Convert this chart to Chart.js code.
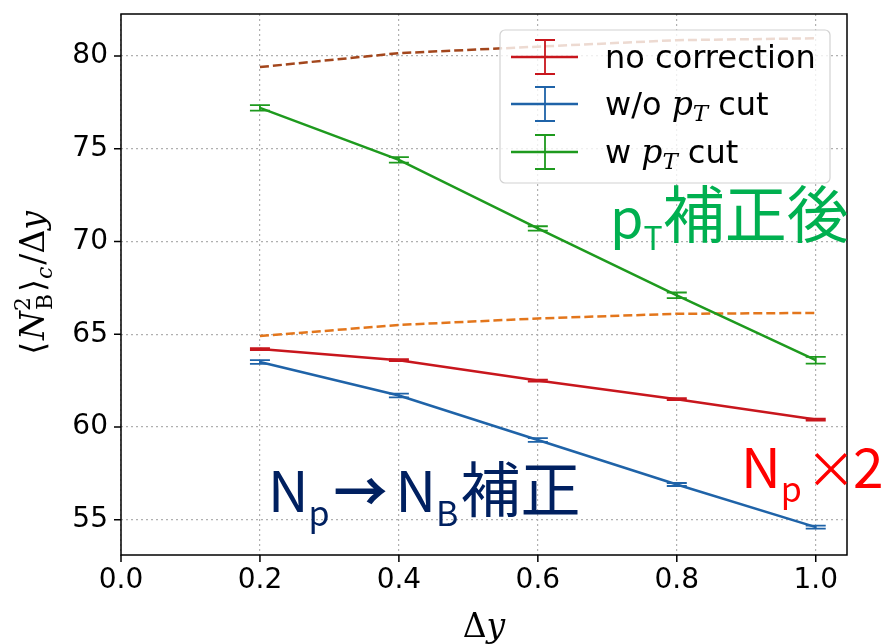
<!DOCTYPE html>
<html>
<head>
<meta charset="utf-8">
<script src="https://cdn.jsdelivr.net/npm/chart.js"></script>
<style>
  body { margin: 0; background: #fff; }
  canvas { display: block; }
</style>
</head>
<body>
<canvas id="myChart" width="886" height="644"></canvas>
<script>
// Δy values
const dy = [0.2, 0.4, 0.6, 0.8, 1.0];

// measured series with error bars
const noCorr = [64.2, 63.6, 62.5, 61.5, 60.4];
const noCorrErr = [0.05, 0.05, 0.05, 0.05, 0.05];
const woCut = [63.5, 61.7, 59.3, 56.9, 54.6];
const woCutErr = [0.1, 0.1, 0.1, 0.08, 0.08];
const wCut = [77.2, 74.4, 70.7, 67.1, 63.6];
const wCutErr = [0.15, 0.15, 0.12, 0.15, 0.18];

// dashed reference curves
const npTimes2 = [64.9, 65.5, 65.85, 66.1, 66.15];
const corrected = [79.4, 80.15, 80.5, 80.85, 80.95];

const xTicks = [0.0, 0.2, 0.4, 0.6, 0.8, 1.0];
const yTicks = [55, 60, 65, 70, 75, 80];

const RED = '#c8161d', BLUE = '#1f63a8', GREEN = '#1e9a1e';
const BROWN = '#a3461c', ORANGE = '#e3761c';

const pts = (ys) => dy.map((x, i) => ({x: x, y: ys[i]}));

function lineSet(label, ys, color, dashed, errs) {
  return {
    label: label,
    data: pts(ys),
    errs: errs,
    borderColor: color,
    backgroundColor: color,
    borderWidth: 2.5,
    borderDash: dashed ? [9, 4] : [],
    pointRadius: 0,
    tension: 0,
    fill: false
  };
}

// draw text made of pieces (font, offset) along a line
function drawRuns(ctx, runs, x, y, align) {
  let total = 0;
  runs.forEach(r => { ctx.font = r.font; r.w = ctx.measureText(r.t).width; total += r.w + (r.gap || 0); });
  let cx = align === 'center' ? x - total / 2 : x;
  ctx.textBaseline = 'alphabetic';
  ctx.textAlign = 'left';
  runs.forEach(r => {
    ctx.font = r.font;
    if (r.at !== undefined) cx = r.at;
    ctx.fillText(r.t, cx, y + (r.dy || 0));
    cx += r.w + (r.gap || 0);
  });
}

const errorBars = {
  id: 'errorBars',
  afterDatasetsDraw(chart) {
    const ctx = chart.ctx;
    const xs = chart.scales.x, ys = chart.scales.y;
    chart.data.datasets.forEach(ds => {
      if (!ds.errs) return;
      ctx.save();
      ctx.strokeStyle = ds.borderColor;
      ctx.lineWidth = 1.8;
      ds.data.forEach((p, i) => {
        const px = xs.getPixelForValue(p.x);
        const top = ys.getPixelForValue(p.y + ds.errs[i]);
        const bot = ys.getPixelForValue(p.y - ds.errs[i]);
        ctx.beginPath();
        ctx.moveTo(px, top); ctx.lineTo(px, bot);
        ctx.moveTo(px - 10, top); ctx.lineTo(px + 10, top);
        ctx.moveTo(px - 10, bot); ctx.lineTo(px + 10, bot);
        ctx.stroke();
      });
      ctx.restore();
    });
  }
};

const decorations = {
  id: 'decorations',
  afterDraw(chart) {
    const ctx = chart.ctx;
    const a = chart.chartArea;
    const xs = chart.scales.x, ys = chart.scales.y;
    ctx.save();
    // frame
    ctx.strokeStyle = '#000';
    ctx.lineWidth = 1.5;
    ctx.strokeRect(a.left, a.top, a.right - a.left, a.bottom - a.top);
    // ticks
    ctx.beginPath();
    xTicks.forEach(v => {
      const px = xs.getPixelForValue(v);
      ctx.moveTo(px, a.bottom); ctx.lineTo(px, a.bottom + 7);
    });
    yTicks.forEach(v => {
      const py = ys.getPixelForValue(v);
      ctx.moveTo(a.left, py); ctx.lineTo(a.left - 7, py);
    });
    ctx.stroke();

    // legend
    const lx = 500, ly = 30, lw = 330, lh = 153;
    ctx.beginPath();
    ctx.roundRect(lx, ly, lw, lh, 5);
    ctx.fillStyle = 'rgba(255,255,255,0.8)';
    ctx.fill();
    ctx.strokeStyle = '#d2d2d2';
    ctx.lineWidth = 1.2;
    ctx.stroke();
    const sans = '32px "DejaVu Sans"';
    const rows = [
      {c: RED, y: 57, runs: [{t: 'no correction', font: sans}]},
      {c: BLUE, y: 104, runs: [{t: 'w/o ', font: sans}, {t: 'p', font: 'italic 33px "DejaVu Serif"'}, {t: 'T', font: 'italic 23px "DejaVu Serif"', dy: 6, gap: 10}, {t: 'cut', font: sans}]},
      {c: GREEN, y: 152, runs: [{t: 'w ', font: sans}, {t: 'p', font: 'italic 33px "DejaVu Serif"'}, {t: 'T', font: 'italic 23px "DejaVu Serif"', dy: 6, gap: 10}, {t: 'cut', font: sans}]}
    ];
    rows.forEach(r => {
      ctx.strokeStyle = r.c;
      ctx.lineWidth = 2.5;
      ctx.beginPath();
      ctx.moveTo(511, r.y); ctx.lineTo(578, r.y);
      ctx.stroke();
      ctx.lineWidth = 1.8;
      ctx.beginPath();
      ctx.moveTo(545, r.y - 17); ctx.lineTo(545, r.y + 17);
      ctx.moveTo(535, r.y - 17); ctx.lineTo(555, r.y - 17);
      ctx.moveTo(535, r.y + 17); ctx.lineTo(555, r.y + 17);
      ctx.stroke();
      ctx.fillStyle = '#000';
      drawRuns(ctx, r.runs, 605, r.y + 11, 'left');
    });

    // annotations
    const cjk = '"Noto Sans CJK JP"';
    ctx.fillStyle = '#00b050';
    drawRuns(ctx, [
      {t: 'p', font: '54px ' + cjk},
      {t: 'T', font: '32px ' + cjk, dy: 12},
      {t: '補正後', font: '62px ' + cjk}
    ], 610, 238, 'left');

    ctx.fillStyle = '#002060';
    drawRuns(ctx, [
      {t: 'N', font: '56px ' + cjk},
      {t: 'p', font: '34px ' + cjk, dy: 14, gap: 4},
      {t: '→', font: 'bold 54px ' + cjk, gap: 8},
      {t: 'N', font: '56px ' + cjk},
      {t: 'B', font: '34px ' + cjk, dy: 14, gap: 2},
      {t: '補正', font: '60px ' + cjk}
    ], 268, 512, 'left');

    ctx.fillStyle = '#ff0000';
    drawRuns(ctx, [
      {t: 'N', font: '55px ' + cjk},
      {t: 'p', font: '34px ' + cjk, dy: 14},
      {t: '×', font: '50px ' + cjk, at: 806},
      {t: '2', font: '55px ' + cjk, at: 853}
    ], 741, 488, 'left');

    // axis titles
    ctx.fillStyle = '#000';
    drawRuns(ctx, [
      {t: 'Δ', font: '33px "DejaVu Serif"'},
      {t: 'y', font: 'italic 33px "DejaVu Serif"'}
    ], 484, 637, 'center');

    ctx.translate(44, 283);
    ctx.rotate(-Math.PI / 2);
    drawRuns(ctx, [
      {t: '⟨', font: '33px "DejaVu Serif"', gap: 2},
      {t: 'N', font: 'italic 33px "DejaVu Serif"'},
      {t: '2', font: '22px "DejaVu Serif"', dy: -14, gap: -13},
      {t: 'B', font: '22px "DejaVu Serif"', dy: 8, gap: 2},
      {t: '⟩', font: '33px "DejaVu Serif"'},
      {t: 'c', font: 'italic 22px "DejaVu Serif"', dy: 8, gap: 2},
      {t: '/', font: '33px "DejaVu Serif"'},
      {t: 'Δ', font: '33px "DejaVu Serif"'},
      {t: 'y', font: 'italic 33px "DejaVu Serif"'}
    ], 0, 0, 'center');
    ctx.restore();
  }
};

const config = {
  type: 'line',
  data: {
    datasets: [
      lineSet('no correction', noCorr, RED, false, noCorrErr),
      lineSet('w/o pT cut', woCut, BLUE, false, woCutErr),
      lineSet('w pT cut', wCut, GREEN, false, wCutErr),
      lineSet('Np x2', npTimes2, ORANGE, true),
      lineSet('corrected', corrected, BROWN, true)
    ]
  },
  plugins: [errorBars, decorations],
  options: {
    responsive: false,
    animation: false,
    layout: { padding: { top: 14, right: 39, left: 0, bottom: 0 } },
    plugins: { legend: { display: false }, tooltip: { enabled: false } },
    scales: {
      x: {
        type: 'linear',
        min: 0,
        max: 1.045,
        afterBuildTicks: (s) => { s.ticks = xTicks.map(v => ({value: v})); },
        afterFit: (s) => { s.height = 89; s.paddingLeft = 0; s.paddingRight = 0; },
        grid: { color: '#b0b0b0', lineWidth: 1.2, drawTicks: false },
        border: { display: false, dash: [2, 3] },
        ticks: {
          color: '#000',
          font: { family: 'DejaVu Sans', size: 28 },
          padding: 9,
          maxRotation: 0,
          callback: (v) => Number(v).toFixed(1)
        }
      },
      y: {
        type: 'linear',
        min: 53.1,
        max: 82.26,
        afterBuildTicks: (s) => { s.ticks = yTicks.map(v => ({value: v})); },
        afterFit: (s) => { s.width = 121; s.paddingTop = 0; s.paddingBottom = 0; },
        grid: { color: '#b0b0b0', lineWidth: 1.2, drawTicks: false },
        border: { display: false, dash: [2, 3] },
        ticks: {
          color: '#000',
          font: { family: 'DejaVu Sans', size: 28 },
          padding: 13,
          callback: (v) => String(v)
        }
      }
    }
  }
};

const myChart = new Chart(document.getElementById('myChart'), config);
</script>
</body>
</html>
